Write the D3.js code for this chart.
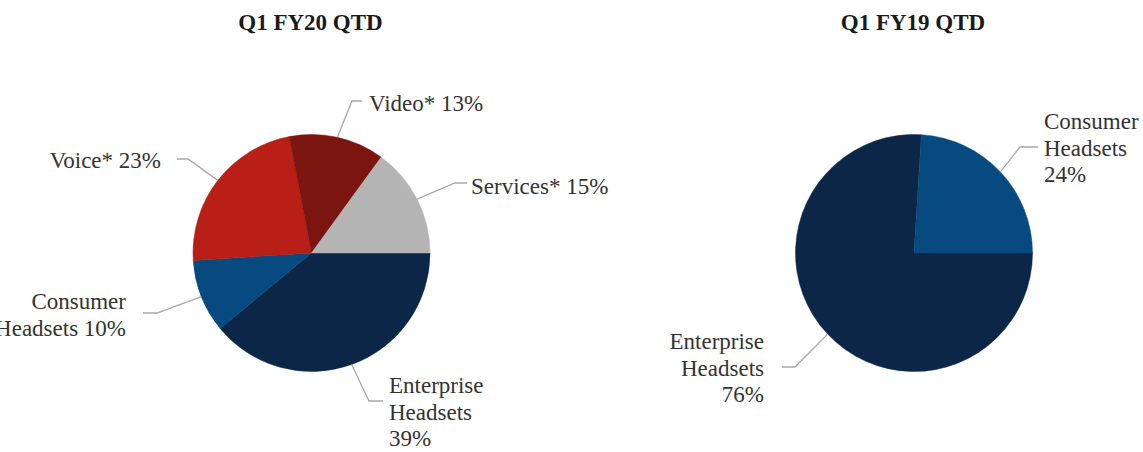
<!DOCTYPE html>
<html>
<head>
<meta charset="utf-8">
<script src="https://cdn.jsdelivr.net/npm/d3@7"></script>
<style>
  html, body { margin: 0; padding: 0; background: #fff; }
  svg { display: block; }
  text { font-family: "Liberation Serif", "Times New Roman", serif; }
</style>
</head>
<body>
<svg width="1143" height="452"></svg>
<script>
// chart data
var titles = ["Q1 FY20 QTD", "Q1 FY19 QTD"];
var categoriesFY20 = ["Enterprise Headsets", "Consumer Headsets", "Voice*", "Video*", "Services*"];
var valuesFY20 = [39, 10, 23, 13, 15];
var categoriesFY19 = ["Enterprise Headsets", "Consumer Headsets"];
var valuesFY19 = [76, 24];

var colors = {
  "Enterprise Headsets": "#0b2646",
  "Consumer Headsets": "#074a80",
  "Voice*": "#b81f17",
  "Video*": "#7a1510",
  "Services*": "#b4b4b4"
};

// label layout: elbow / end of leader line, text anchor, how the text wraps
var layoutFY20 = [
  { elbow: [369, 401], end: [383, 401], tx: 389, ty: 385, anchor: "start", wrap: 3 },
  { elbow: [157, 313], end: [143, 313], tx: 126, ty: 301, anchor: "end", wrap: 2 },
  { elbow: [188, 159], end: [177, 159], tx: 161, ty: 160, anchor: "end", wrap: 1 },
  { elbow: [352, 101], end: [362, 101], tx: 369, ty: 103, anchor: "start", wrap: 1 },
  { elbow: [455, 183], end: [467, 183], tx: 471, ty: 186, anchor: "start", wrap: 1 }
];
var layoutFY19 = [
  { elbow: [795, 367], end: [782, 367], tx: 764, ty: 341, anchor: "end", wrap: 3 },
  { elbow: [1020, 147], end: [1038, 147], tx: 1044, ty: 121, anchor: "start", wrap: 3 }
];

var svg = d3.select("svg");
var radius = 118.5;
var lineGap = 26.5;

var pie = d3.pie()
  .sort(null)
  .value(function (d) { return d.value; })
  .startAngle(Math.PI / 2)
  .endAngle(Math.PI / 2 + 2 * Math.PI);

var arc = d3.arc().innerRadius(0).outerRadius(radius);
var edgeArc = d3.arc().innerRadius(radius).outerRadius(radius);

function labelLines(name, value, wrap) {
  var words = name.split(" ");
  if (wrap === 1) return [name + " " + value + "%"];
  if (wrap === 2) return [words[0], words[1] + " " + value + "%"];
  return [words[0], words[1], value + "%"];
}

function drawPie(cx, cy, title, cats, vals, layout) {
  var data = cats.map(function (c, i) { return { name: c, value: vals[i] }; });
  var arcs = pie(data);

  svg.append("text")
    .attr("x", cx - 1)
    .attr("y", 22)
    .attr("dy", "0.35em")
    .attr("text-anchor", "middle")
    .attr("font-weight", "bold")
    .attr("font-size", 23)
    .attr("fill", "#1a1a1a")
    .text(title);

  var g = svg.append("g")
    .attr("transform", "translate(" + cx + "," + cy + ")");

  g.selectAll("path.slice")
    .data(arcs)
    .enter()
    .append("path")
    .attr("class", "slice")
    .attr("d", arc)
    .attr("fill", function (d) { return colors[d.data.name]; })
    .attr("stroke", function (d) { return colors[d.data.name]; })
    .attr("stroke-width", 0.5);

  // leader lines + labels
  arcs.forEach(function (d, i) {
    var L = layout[i];
    var p = edgeArc.centroid(d);
    var pts = [[cx + p[0], cy + p[1]], L.elbow, L.end];
    svg.append("path")
      .attr("d", d3.line()(pts))
      .attr("fill", "none")
      .attr("stroke", "#a8a8a8")
      .attr("stroke-width", 1.3);

    var t = svg.append("text")
      .attr("font-size", 23)
      .attr("fill", "#333333")
      .attr("text-anchor", L.anchor);
    labelLines(d.data.name, d.data.value, L.wrap).forEach(function (s, k) {
      t.append("tspan")
        .attr("x", L.tx)
        .attr("y", L.ty + k * lineGap)
        .attr("dy", "0.35em")
        .text(s);
    });
  });
}

drawPie(311.5, 253, titles[0], categoriesFY20, valuesFY20, layoutFY20);
drawPie(914, 253, titles[1], categoriesFY19, valuesFY19, layoutFY19);
</script>
</body>
</html>
